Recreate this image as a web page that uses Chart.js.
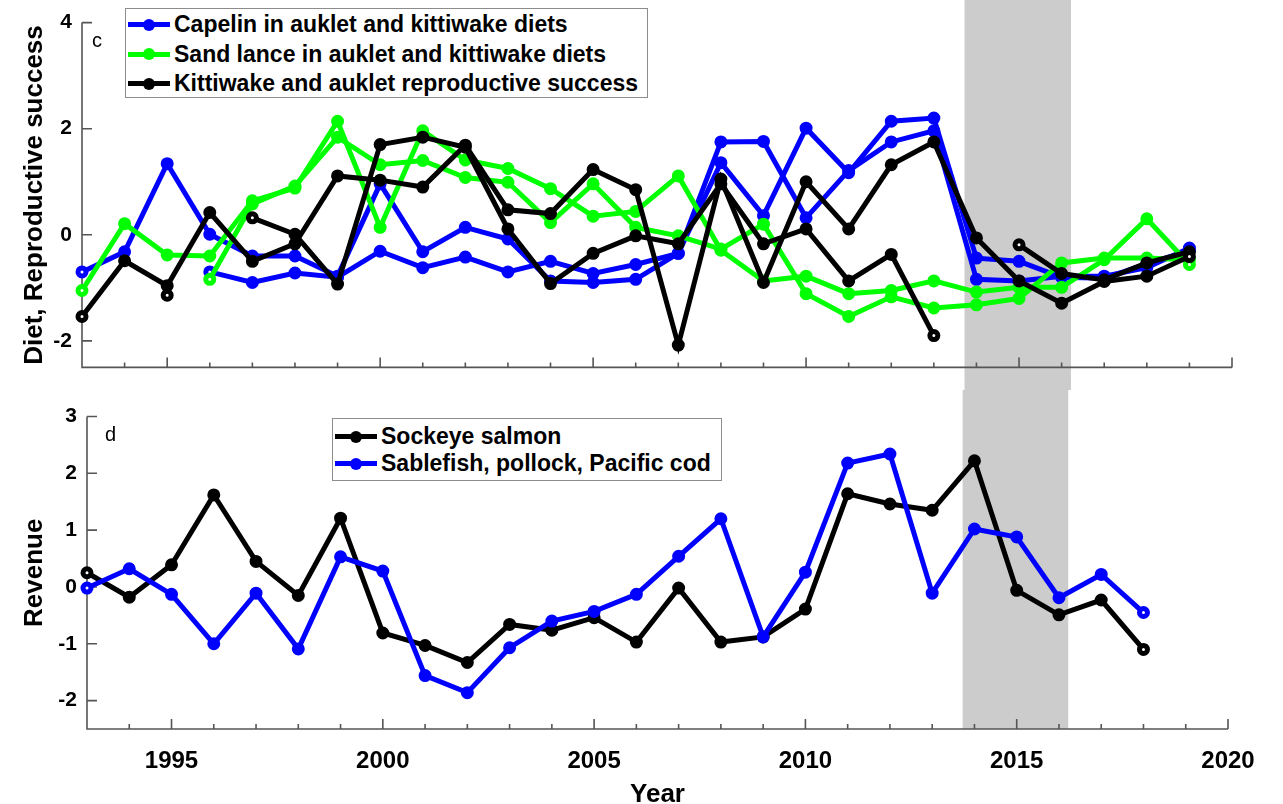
<!DOCTYPE html>
<html>
<head>
<meta charset="utf-8">
<script src="https://cdn.jsdelivr.net/npm/chart.js@4.4.1/dist/chart.umd.min.js"></script>
<style>
  body { margin: 0; background: #fff; width: 1283px; height: 804px; position: relative; overflow: hidden;
         font-family: "Liberation Sans", Arial, sans-serif; }
  canvas { position: absolute; left: 0; }
  #topChart { top: 0; }
  #bottomChart { top: 390px; }
  .legend { position: absolute; box-sizing: border-box; background: #fff; border: 1px solid #8c8c8c;
            font-weight: bold; font-size: 23px; color: #000; padding-left: 2px; }
  .legend .row { display: flex; align-items: center; white-space: nowrap; }
  .sample { position: relative; width: 42px; height: 5px; margin-right: 4px; flex: none; }
  .sample i { position: absolute; left: 50%; top: 50%; width: 12px; height: 12px; margin: -6px 0 0 -6px;
              border-radius: 50%; background: inherit; }
  .panel { position: absolute; font-size: 20px; line-height: 20px; color: #000; }
</style>
</head>
<body>
<canvas id="topChart" width="1283" height="390"></canvas>
<canvas id="bottomChart" width="1283" height="424"></canvas>

<div class="legend" style="left:125px; top:8px; width:523px; height:90px; padding-top:1px;">
  <div class="row" style="height:29.5px"><span class="sample" style="background:#0000ff"><i></i></span>Capelin in auklet and kittiwake diets</div>
  <div class="row" style="height:29.5px"><span class="sample" style="background:#00ff00"><i></i></span>Sand lance in auklet and kittiwake diets</div>
  <div class="row" style="height:29.5px"><span class="sample" style="background:#000000"><i></i></span>Kittiwake and auklet reproductive success</div>
</div>
<div class="legend" style="left:332px; top:418px; width:390px; height:63px; padding-top:4px;">
  <div class="row" style="height:27px"><span class="sample" style="background:#000000"><i></i></span>Sockeye salmon</div>
  <div class="row" style="height:27px"><span class="sample" style="background:#0000ff"><i></i></span>Sablefish, pollock, Pacific cod</div>
</div>
<div class="panel" style="left:92px; top:30px;">c</div>
<div class="panel" style="left:105px; top:424px;">d</div>

<script>
// Top panel: seabird diets and reproductive success (null = no value)
const dietYears = [1993, 1994, 1995, 1996, 1997, 1998, 1999, 2000, 2001, 2002, 2003, 2004, 2005, 2006,
                   2007, 2008, 2009, 2010, 2011, 2012, 2013, 2014, 2015, 2016, 2017, 2018, 2019];
const capelinA = [-0.70, -0.32, 1.34, 0.01, -0.40, -0.40, -0.78, 0.96, -0.32, 0.14, -0.08, -0.87, -0.90, -0.84,
                  -0.35, 1.75, 1.76, 0.32, 1.21, 1.75, 1.96, -0.84, -0.87, -0.78, -0.78, -0.62, -0.25];
const capelinB = [null, null, null, -0.70, -0.90, -0.72, -0.80, -0.31, -0.62, -0.42, -0.70, -0.50, -0.73, -0.56,
                  -0.35, 1.36, 0.36, 2.01, 1.17, 2.14, 2.20, -0.44, -0.50, -0.80, -0.82, -0.55, -0.30];
const sandLanceA = [-1.05, 0.21, -0.38, -0.40, 0.64, 0.88, 2.14, 0.14, 1.96, 1.41, 1.25, 0.87, 0.35, 0.44,
                    1.11, -0.29, -0.87, -0.78, -1.11, -1.05, -0.87, -1.08, -0.99, -0.99, -0.47, 0.30, -0.56];
const sandLanceB = [null, null, null, -0.84, 0.58, 0.92, 1.84, 1.32, 1.40, 1.08, 0.99, 0.23, 0.96, 0.14,
                    -0.02, -0.27, 0.20, -1.11, -1.54, -1.17, -1.38, -1.32, -1.20, -0.53, -0.44, -0.44, -0.47];
const successA = [-1.54, -0.49, -0.96, 0.42, -0.50, -0.17, 1.11, 1.03, 0.90, 1.69, 0.47, 0.40, 1.23, 0.85,
                  -2.08, 1.05, -0.90, 1.00, 0.11, 1.32, 1.75, -0.06, -0.87, -1.29, -0.88, -0.78, -0.41];
const successB = [null, null, -1.14, null, null, null, null, null, null, null, null, null, null, null,
                  null, null, null, null, null, null, null, null, null, null, null, null, null];
const successC = [null, null, null, null, 0.32, 0.01, -0.93, 1.70, 1.84, 1.65, 0.11, -0.92, -0.35, -0.02,
                  -0.17, 0.96, -0.17, 0.11, -0.87, -0.37, -1.90, null, null, null, null, null, null];
const successD = [null, null, null, null, null, null, null, null, null, null, null, null, null, null,
                  null, null, null, null, null, null, null, null, -0.19, -0.73, -0.85, -0.53, -0.32];

// Bottom panel: fishery revenue
const revenueYears = [1993, 1994, 1995, 1996, 1997, 1998, 1999, 2000, 2001, 2002, 2003, 2004, 2005,
                      2006, 2007, 2008, 2009, 2010, 2011, 2012, 2013, 2014, 2015, 2016, 2017, 2018];
const sockeye = [0.25, -0.18, 0.39, 1.62, 0.45, -0.15, 1.21, -0.81, -1.03, -1.33, -0.66, -0.76, -0.54,
                 -0.97, -0.02, -0.97, -0.88, -0.39, 1.64, 1.46, 1.35, 2.22, -0.06, -0.49, -0.23, -1.10];
const groundfish = [-0.02, 0.32, -0.13, -1.00, -0.11, -1.09, 0.53, 0.28, -1.56, -1.86, -1.07, -0.60, -0.43,
                    -0.13, 0.54, 1.20, -0.88, 0.26, 2.18, 2.34, -0.11, 1.02, 0.88, -0.19, 0.22, -0.45];

// Axis ticks and shaded heatwave period
const yearTicks = [1995, 2000, 2005, 2010, 2015, 2020];
const dietTicks = [-2, 0, 2, 4];
const revenueTicks = [-2, -1, 0, 1, 2, 3];
const shadeYears = [2013.72, 2016.22];

const BLUE = '#0000ff', GREEN = '#00ff00', BLACK = '#000000';
Chart.defaults.font.family = "'Liberation Sans', Arial, sans-serif";
Chart.defaults.color = '#000';

function lineSet(years, values, color, order) {
  const idx = values.map((v, i) => v === null ? -1 : i).filter(i => i >= 0);
  const first = idx[0], last = idx[idx.length - 1];
  return {
    data: years.map((yr, i) => ({ x: yr, y: values[i] })),
    borderColor: color,
    borderWidth: 5,
    pointRadius: 4,
    pointBorderWidth: 5,
    pointBorderColor: color,
    pointBackgroundColor: values.map((v, i) => (i === first || i === last) ? '#ffffff' : color),
    clip: false,
    order: order
  };
}

// grey band, left/bottom axis lines and inward ticks
const matlabAxes = {
  id: 'matlabAxes',
  beforeDraw(chart, args, opts) {
    const { ctx, chartArea: a, scales: { x } } = chart;
    const x0 = x.getPixelForValue(shadeYears[0]);
    const x1 = x.getPixelForValue(shadeYears[1]);
    ctx.save();
    ctx.fillStyle = '#cccccc';
    ctx.fillRect(x0, 0, x1 - x0, opts.shadeToEdge ? chart.height : a.bottom);
    ctx.restore();
  },
  beforeDatasetsDraw(chart) {
    const { ctx, chartArea: a, scales: { x, y } } = chart;
    ctx.save();
    ctx.strokeStyle = '#555555';
    ctx.lineWidth = 1.6;
    ctx.beginPath();
    ctx.moveTo(a.left, a.top);
    ctx.lineTo(a.left, a.bottom);
    ctx.lineTo(a.right, a.bottom);
    for (let yr = Math.ceil(x.min); yr <= x.max; yr++) {
      const px = x.getPixelForValue(yr);
      ctx.moveTo(px, a.bottom);
      ctx.lineTo(px, a.bottom - (yr % 5 === 0 ? 10 : 5));
    }
    y.ticks.forEach(t => {
      const py = y.getPixelForValue(t.value);
      ctx.moveTo(a.left, py);
      ctx.lineTo(a.left + 10, py);
    });
    ctx.stroke();
    ctx.restore();
  }
};

const tickFont = { size: 21, weight: 'bold' };
const titleFont = { size: 26, weight: 'bold' };

new Chart(document.getElementById('topChart'), {
  type: 'line',
  data: {
    datasets: [
      lineSet(dietYears, capelinA, BLUE, 3),
      lineSet(dietYears, capelinB, BLUE, 3),
      lineSet(dietYears, sandLanceA, GREEN, 2),
      lineSet(dietYears, sandLanceB, GREEN, 2),
      lineSet(dietYears, successA, BLACK, 1),
      lineSet(dietYears, successB, BLACK, 1),
      lineSet(dietYears, successC, BLACK, 1),
      lineSet(dietYears, successD, BLACK, 1)
    ]
  },
  options: {
    responsive: false,
    animation: false,
    events: [],
    layout: { padding: { top: 13, right: 51, left: 0, bottom: 0 } },
    plugins: { legend: { display: false }, tooltip: { enabled: false }, matlabAxes: { shadeToEdge: true } },
    scales: {
      x: {
        type: 'linear', min: 1993, max: 2020,
        afterBuildTicks: s => { s.ticks = yearTicks.map(v => ({ value: v })); },
        ticks: { display: false },
        grid: { display: false, drawTicks: false },
        border: { display: false },
        afterFit: s => { s.height = 21.5; }
      },
      y: {
        min: -2.5, max: 4,
        afterBuildTicks: s => { s.ticks = dietTicks.map(v => ({ value: v })); },
        ticks: { font: tickFont, padding: 10 },
        grid: { display: false, drawTicks: false },
        border: { display: false },
        title: { display: true, text: 'Diet, Reproductive success', font: titleFont, padding: { top: 19, bottom: 0 } },
        afterFit: s => { s.width = 82; }
      }
    }
  },
  plugins: [matlabAxes]
});

new Chart(document.getElementById('bottomChart'), {
  type: 'line',
  data: {
    datasets: [
      lineSet(revenueYears, sockeye, BLACK, 2),
      lineSet(revenueYears, groundfish, BLUE, 1)
    ]
  },
  options: {
    responsive: false,
    animation: false,
    events: [],
    layout: { padding: { top: 26.5, right: 55, left: 0, bottom: 0 } },
    plugins: { legend: { display: false }, tooltip: { enabled: false }, matlabAxes: { shadeToEdge: false } },
    scales: {
      x: {
        type: 'linear', min: 1993, max: 2020,
        afterBuildTicks: s => { s.ticks = yearTicks.map(v => ({ value: v })); },
        ticks: { font: { size: 24, weight: 'bold' }, padding: 18, maxRotation: 0, callback: v => String(v) },
        grid: { display: false, drawTicks: false },
        border: { display: false },
        title: { display: true, text: 'Year', font: titleFont, padding: { top: 0, bottom: 4 } },
        afterFit: s => { s.height = 85; }
      },
      y: {
        min: -2.5, max: 3,
        afterBuildTicks: s => { s.ticks = revenueTicks.map(v => ({ value: v })); },
        ticks: { font: tickFont, padding: 10 },
        grid: { display: false, drawTicks: false },
        border: { display: false },
        title: { display: true, text: 'Revenue', font: titleFont, padding: { top: 19, bottom: 0 } },
        afterFit: s => { s.width = 87; }
      }
    }
  },
  plugins: [matlabAxes]
});
</script>
</body>
</html>
